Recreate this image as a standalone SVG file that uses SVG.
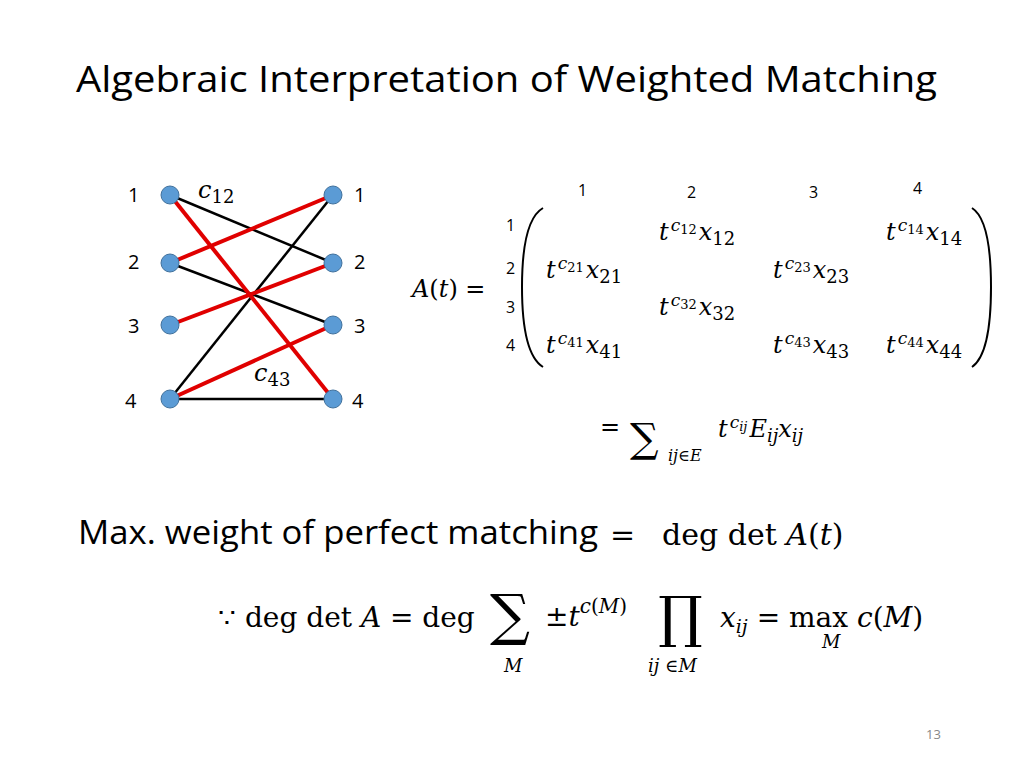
<svg xmlns="http://www.w3.org/2000/svg" width="1024" height="768" viewBox="0 0 1024 768">
<style>
.s{font-family:"Open Sans","Liberation Sans",sans-serif;fill:#000}
.m{font-family:"DejaVu Serif","Liberation Serif",serif;font-style:italic;fill:#000}
.r{font-family:"DejaVu Serif","Liberation Serif",serif;fill:#000}
.blk{stroke:#000;stroke-width:2.5}
.red{stroke:#e00000;stroke-width:4}
.n{fill:#5b9bd5;stroke:#41719c;stroke-width:1}
</style>
<rect width="1024" height="768" fill="#fff"/>
<text class="s" x="76" y="92" font-size="36" textLength="861" lengthAdjust="spacingAndGlyphs">Algebraic Interpretation of Weighted Matching</text>
<g id="connectors">
<line class="blk" x1="170" y1="195" x2="333" y2="263"/>
<line class="blk" x1="170" y1="263" x2="333" y2="325"/>
<line class="blk" x1="170" y1="399" x2="333" y2="195"/>
<line class="blk" x1="170" y1="399" x2="333" y2="399"/>
<line class="red" x1="170" y1="195" x2="333" y2="399"/>
<line class="red" x1="170" y1="263" x2="333" y2="195"/>
<line class="red" x1="170" y1="325" x2="333" y2="263"/>
<line class="red" x1="170" y1="399" x2="333" y2="325"/>
</g>
<g id="left-nodes" font-size="20">
<g id="L1"><circle class="n" cx="170" cy="195" r="9"/><text class="s" x="128" y="202">1</text></g>
<g id="L2"><circle class="n" cx="170" cy="263" r="9"/><text class="s" x="128" y="269">2</text></g>
<g id="L3"><circle class="n" cx="170" cy="325" r="9"/><text class="s" x="128" y="333">3</text></g>
<g id="L4"><circle class="n" cx="170" cy="399" r="9"/><text class="s" x="125" y="408">4</text></g>
</g>
<g id="right-nodes" font-size="20">
<g id="R1"><circle class="n" cx="333" cy="195" r="9"/><text class="s" x="354" y="202">1</text></g>
<g id="R2"><circle class="n" cx="333" cy="263" r="9"/><text class="s" x="354" y="269">2</text></g>
<g id="R3"><circle class="n" cx="333" cy="325" r="9"/><text class="s" x="354" y="333">3</text></g>
<g id="R4"><circle class="n" cx="333" cy="399" r="9"/><text class="s" x="352" y="408">4</text></g>
</g>
<text class="m" x="198" y="198" font-size="24">c<tspan font-size="18" dy="5" font-style="normal">12</tspan></text>
<text class="m" x="254" y="381" font-size="24">c<tspan font-size="18" dy="5" font-style="normal">43</tspan></text>

<g font-size="16" class="s">
<text class="s" x="578" y="196">1</text><text class="s" x="687" y="198">2</text><text class="s" x="809" y="198">3</text><text class="s" x="913" y="194">4</text>
<text class="s" x="506" y="231">1</text><text class="s" x="506" y="274">2</text><text class="s" x="506" y="313">3</text><text class="s" x="506" y="351">4</text>
</g>
<text class="m" x="412" y="297" font-size="24">A<tspan font-style="normal">(</tspan>t<tspan font-style="normal">) =</tspan></text>
<path d="M543,208 Q522,220 522,287 Q522,354 543,367" fill="none" stroke="#000" stroke-width="2"/>
<path d="M972,208 Q991,220 991,287 Q991,354 972,367" fill="none" stroke="#000" stroke-width="2"/>
<g class="m" font-size="24">
<text x="659" y="240">t<tspan font-size="17" dy="-9" dx="2">c</tspan><tspan font-size="13" dy="3" font-style="normal">12</tspan><tspan dy="6" dx="2">x</tspan><tspan font-size="18" dy="5" font-style="normal">12</tspan></text>
<text x="886" y="240">t<tspan font-size="17" dy="-9" dx="2">c</tspan><tspan font-size="13" dy="3" font-style="normal">14</tspan><tspan dy="6" dx="2">x</tspan><tspan font-size="18" dy="5" font-style="normal">14</tspan></text>
<text x="546" y="278">t<tspan font-size="17" dy="-9" dx="2">c</tspan><tspan font-size="13" dy="3" font-style="normal">21</tspan><tspan dy="6" dx="2">x</tspan><tspan font-size="18" dy="5" font-style="normal">21</tspan></text>
<text x="773" y="278">t<tspan font-size="17" dy="-9" dx="2">c</tspan><tspan font-size="13" dy="3" font-style="normal">23</tspan><tspan dy="6" dx="2">x</tspan><tspan font-size="18" dy="5" font-style="normal">23</tspan></text>
<text x="659" y="315">t<tspan font-size="17" dy="-9" dx="2">c</tspan><tspan font-size="13" dy="3" font-style="normal">32</tspan><tspan dy="6" dx="2">x</tspan><tspan font-size="18" dy="5" font-style="normal">32</tspan></text>
<text x="546" y="353">t<tspan font-size="17" dy="-9" dx="2">c</tspan><tspan font-size="13" dy="3" font-style="normal">41</tspan><tspan dy="6" dx="2">x</tspan><tspan font-size="18" dy="5" font-style="normal">41</tspan></text>
<text x="773" y="353">t<tspan font-size="17" dy="-9" dx="2">c</tspan><tspan font-size="13" dy="3" font-style="normal">43</tspan><tspan dy="6" dx="2">x</tspan><tspan font-size="18" dy="5" font-style="normal">43</tspan></text>
<text x="886" y="353">t<tspan font-size="17" dy="-9" dx="2">c</tspan><tspan font-size="13" dy="3" font-style="normal">44</tspan><tspan dy="6" dx="2">x</tspan><tspan font-size="18" dy="5" font-style="normal">44</tspan></text>
</g>
<text class="r" x="600" y="435" font-size="24">=</text>
<text class="r" x="630" y="452" font-size="40">∑</text>
<text class="m" x="668" y="461" font-size="16">ij<tspan font-style="normal">∈</tspan>E</text>
<text class="m" x="718" y="437" font-size="24">t<tspan font-size="17" dy="-9" dx="2">c</tspan><tspan font-size="13" dy="3">ij</tspan><tspan dy="6" dx="2">E</tspan><tspan font-size="18" dy="5">ij</tspan><tspan dy="-5">x</tspan><tspan font-size="18" dy="5">ij</tspan></text>

<text class="s" x="78" y="544" font-size="32" textLength="520" lengthAdjust="spacingAndGlyphs">Max. weight of perfect matching</text>
<text class="r" x="610" y="545" font-size="30">=</text>
<text class="r" x="662" y="545" font-size="30">deg det <tspan font-style="italic">A</tspan>(<tspan font-style="italic">t</tspan>)</text>
<text class="r" x="218" y="627" font-size="28">∵ deg det <tspan font-style="italic">A</tspan> = deg</text>
<text class="r" x="490" y="634" font-size="56">∑</text>
<text class="m" x="504" y="672" font-size="18">M</text>
<text class="r" x="545" y="626" font-size="28">±<tspan font-style="italic">t</tspan><tspan font-size="20" dy="-13"><tspan font-style="italic">c</tspan>(<tspan font-style="italic">M</tspan>)</tspan></text>
<text class="r" x="658" y="636" font-size="56">∏</text>
<text class="m" x="648" y="672" font-size="18">ij <tspan font-style="normal">∈</tspan>M</text>
<text class="m" x="720" y="627" font-size="28">x<tspan font-size="19" dy="6">ij</tspan><tspan dy="-6" font-style="normal"> = max </tspan>c<tspan font-style="normal">(</tspan>M<tspan font-style="normal">)</tspan></text>
<text class="m" x="822" y="648" font-size="18">M</text>
<text class="s" x="926" y="739" font-size="13" style="fill:#888">13</text>
</svg>
